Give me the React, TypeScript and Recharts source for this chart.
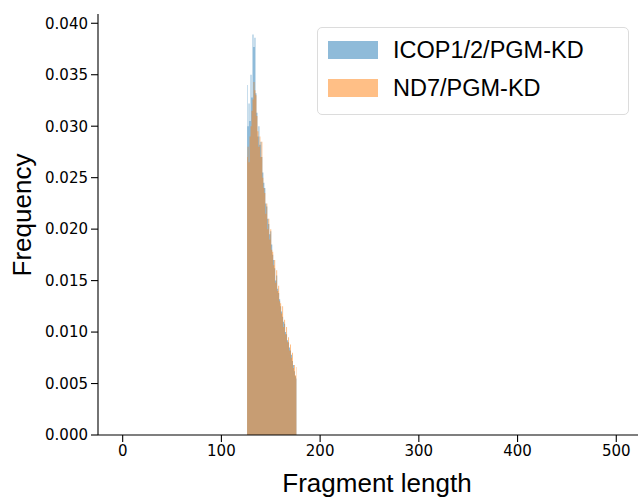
import React from "react";
import { ComposedChart, Area, XAxis, YAxis, Legend, Label } from "recharts";

// histogram bins (fragment length, 1 nt wide)
const fragmentLengths = [
  126, 127, 128, 129, 130, 131, 132, 133, 134, 135, 136, 137, 138, 139, 140, 141, 142,
  143, 144, 145, 146, 147, 148, 149, 150, 151, 152, 153, 154, 155, 156, 157, 158, 159,
  160, 161, 162, 163, 164, 165, 166, 167, 168, 169, 170, 171, 172, 173, 174, 175, 176,
];

const icopFreq = [
  0.034, 0.03, 0.0322, 0.0305, 0.035, 0.0328, 0.0389, 0.0377, 0.0386, 0.0332, 0.0313,
  0.029, 0.03, 0.0282, 0.0285, 0.027, 0.0255, 0.0245, 0.024, 0.0225, 0.0222, 0.021,
  0.0205, 0.0195, 0.0198, 0.0185, 0.0175, 0.017, 0.0162, 0.015, 0.0155, 0.0142, 0.0138,
  0.0132, 0.0125, 0.012, 0.0115, 0.011, 0.0108, 0.01, 0.0098, 0.0092, 0.009, 0.0085,
  0.0082, 0.0078, 0.0072, 0.0068, 0.0062, 0.0057, 0.0055,
];

const nd7Freq = [
  0.027, 0.028, 0.0265, 0.029, 0.03, 0.0315, 0.0326, 0.0343, 0.0335, 0.033, 0.031,
  0.0295, 0.028, 0.029, 0.027, 0.0285, 0.025, 0.024, 0.0235, 0.0215, 0.0225, 0.02,
  0.021, 0.019, 0.02, 0.018, 0.0178, 0.0165, 0.017, 0.0148, 0.016, 0.014, 0.0145,
  0.013, 0.0128, 0.0118, 0.0125, 0.0105, 0.0112, 0.0098, 0.0105, 0.009, 0.0095, 0.0082,
  0.0088, 0.0075, 0.008, 0.0065, 0.0068, 0.0058, 0.0066,
];

const seriesNames = ["ICOP1/2/PGM-KD", "ND7/PGM-KD"];
const seriesColors = ["#1f77b4", "#ff7f0e"];
const swatchColors = ["#8fbbd9", "#ffbf86"];

const xTicks = [0, 100, 200, 300, 400, 500];
const yTicks = [0, 0.005, 0.01, 0.015, 0.02, 0.025, 0.03, 0.035, 0.04];

const data = fragmentLengths.map((len, i) => ({
  len,
  icop: icopFreq[i],
  nd7: nd7Freq[i],
}));

const sans = '"Liberation Sans", Arial, sans-serif';
const tickFont = { fill: "#000", fontSize: 15, fontFamily: '"DejaVu Sans", sans-serif' };

const xLabel = () => (
  <text x={377} y={492} textAnchor="middle" fontFamily={sans} fontSize={26} fill="#000">
    Fragment length
  </text>
);

const yLabel = () => (
  <text
    x={31}
    y={215}
    textAnchor="middle"
    fontFamily={sans}
    fontSize={26}
    fill="#000"
    transform="rotate(-90, 31, 215)"
  >
    Frequency
  </text>
);

const renderLegend = () => (
  <div
    style={{
      boxSizing: "border-box",
      width: 312,
      height: 88,
      border: "1.3px solid #dcdcdc",
      borderRadius: 5,
      background: "rgba(255,255,255,0.8)",
      padding: "3px 0 0 10px",
      fontFamily: sans,
      fontSize: 23.5,
      color: "#000",
    }}
  >
    {seriesNames.map((name, i) => (
      <div key={name} style={{ display: "flex", alignItems: "center", height: 38 }}>
        <span
          style={{ width: 50, height: 18, background: swatchColors[i], marginRight: 15 }}
        />
        <span>{name}</span>
      </div>
    ))}
  </div>
);

const App: React.FC = () => {
  return (
    <div style={{ position: "absolute", left: 0, top: 0 }}>
      <ComposedChart
        width={638}
        height={498}
        data={data}
        margin={{ top: 14, right: 0, bottom: 0, left: 0 }}
      >
        <XAxis
          xAxisId="bottom"
          dataKey="len"
          type="number"
          domain={[-25, 522]}
          ticks={xTicks}
          interval={0}
          allowDataOverflow
          height={63}
          tickSize={7}
          tickMargin={3}
          stroke="#000"
          strokeWidth={1.1}
          tick={tickFont}
        >
          <Label content={xLabel} />
        </XAxis>
        <XAxis
          xAxisId="top"
          orientation="top"
          dataKey="len"
          type="number"
          domain={[-25, 522]}
          allowDataOverflow
          height={0}
          tick={false}
          tickLine={false}
          stroke="#000"
          strokeWidth={1.1}
        />
        <YAxis
          width={98}
          type="number"
          domain={[0, 0.0409]}
          ticks={yTicks}
          interval={0}
          allowDataOverflow
          tickSize={7}
          tickMargin={3}
          stroke="#000"
          strokeWidth={1.1}
          tick={tickFont}
          tickFormatter={(v: number) => v.toFixed(3)}
        >
          <Label content={yLabel} />
        </YAxis>
        <Area
          xAxisId="bottom"
          type="step"
          dataKey="icop"
          name={seriesNames[0]}
          fill={seriesColors[0]}
          fillOpacity={0.5}
          stroke="none"
          dot={false}
          activeDot={false}
          isAnimationActive={false}
        />
        <Area
          xAxisId="bottom"
          type="step"
          dataKey="nd7"
          name={seriesNames[1]}
          fill={seriesColors[1]}
          fillOpacity={0.5}
          stroke="none"
          dot={false}
          activeDot={false}
          isAnimationActive={false}
        />
        <Legend
          layout="horizontal"
          verticalAlign="middle"
          align="center"
          content={renderLegend}
          wrapperStyle={{ left: 317, top: 27, width: 312, height: 88 }}
        />
      </ComposedChart>
    </div>
  );
};

export default App;
